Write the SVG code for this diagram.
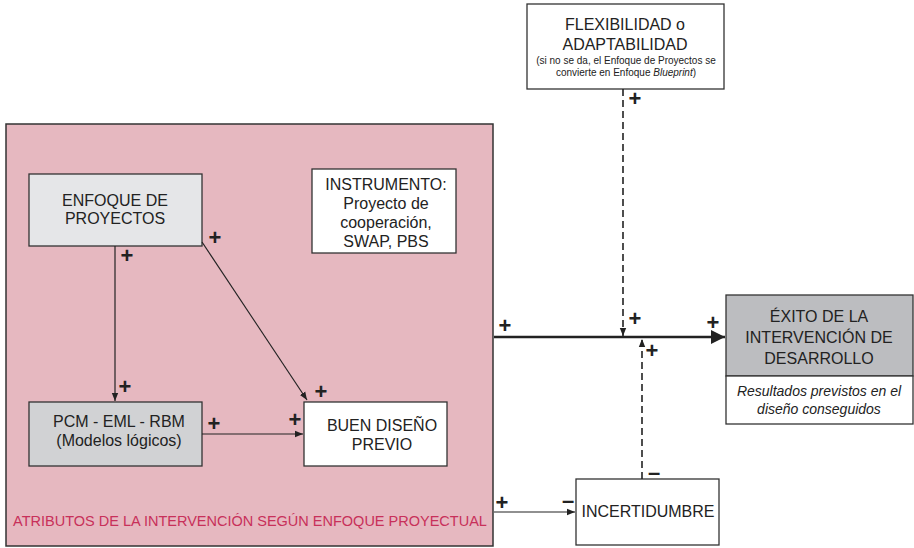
<svg xmlns="http://www.w3.org/2000/svg" width="914" height="548" viewBox="0 0 914 548">
  <style>
    .box { stroke: #333; stroke-width: 1.3; }
    .lbl { font-family: "Liberation Sans", Arial, sans-serif; font-size: 16px; fill: #222; text-anchor: middle; }
    .small { font-family: "Liberation Sans", Arial, sans-serif; font-size: 10px; fill: #222; text-anchor: middle; }
    .it { font-family: "Liberation Sans", Arial, sans-serif; font-size: 14px; font-style: italic; fill: #222; text-anchor: middle; }
    .sign { font-family: "Liberation Sans", Arial, sans-serif; font-size: 22px; font-weight: bold; fill: #222; text-anchor: middle; }
    .minus { font-family: "Liberation Sans", Arial, sans-serif; font-size: 22px; font-weight: bold; fill: #222; text-anchor: middle; }
    .thin { stroke: #222; stroke-width: 1.2; fill: none; }
    .dash { stroke: #222; stroke-width: 1.6; fill: none; stroke-dasharray: 7 4; }
  </style>
  <defs>
    <marker id="arr" viewBox="0 0 10 10" refX="10" refY="5" markerWidth="8" markerHeight="8" markerUnits="userSpaceOnUse" orient="auto">
      <path d="M0,1 L10,5 L0,9 Z" fill="#222"/>
    </marker>
    <marker id="arrBig" viewBox="0 0 10 10" refX="10" refY="5" markerWidth="16" markerHeight="14" markerUnits="userSpaceOnUse" orient="auto">
      <path d="M0,0 L10,5 L0,10 Z" fill="#222"/>
    </marker>
  </defs>

  <!-- project attributes area -->
  <g id="atributos">
    <rect x="6" y="124" width="487" height="422" fill="#e6b8c0" stroke="#333" stroke-width="1.5"/>
    <text x="250" y="526" font-family="Liberation Sans, Arial, sans-serif" font-size="14.5" fill="#c8305a" text-anchor="middle">ATRIBUTOS DE LA INTERVENCIÓN SEGÚN ENFOQUE PROYECTUAL</text>
  </g>

  <g id="enfoque">
    <rect class="box" x="29" y="174" width="173" height="72" fill="#e5e6e8"/>
    <text class="lbl" x="115" y="206">ENFOQUE DE</text>
    <text class="lbl" x="115" y="224">PROYECTOS</text>
  </g>

  <g id="instrumento">
    <rect class="box" x="312" y="169" width="144" height="84" fill="#ffffff"/>
    <text class="lbl" x="386" y="190">INSTRUMENTO:</text>
    <text class="lbl" x="386" y="209">Proyecto de</text>
    <text class="lbl" x="386" y="228">cooperación,</text>
    <text class="lbl" x="386" y="247">SWAP, PBS</text>
  </g>

  <g id="pcm">
    <rect class="box" x="29" y="402" width="173" height="64" fill="#d1d2d4"/>
    <text class="lbl" x="119" y="427">PCM - EML - RBM</text>
    <text class="lbl" x="119" y="446">(Modelos lógicos)</text>
  </g>

  <g id="diseno">
    <rect class="box" x="304" y="402" width="143" height="64" fill="#ffffff"/>
    <text class="lbl" x="382" y="431">BUEN DISEÑO</text>
    <text class="lbl" x="382" y="450">PREVIO</text>
  </g>

  <g id="flexibilidad">
    <rect class="box" x="527" y="4" width="197" height="85" fill="#ffffff"/>
    <text class="lbl" x="625" y="30" font-size="15">FLEXIBILIDAD o</text>
    <text class="lbl" x="625" y="50" font-size="15">ADAPTABILIDAD</text>
    <text class="small" x="626" y="64">(si no se da, el Enfoque de Proyectos se</text>
    <text class="small" x="626" y="76">convierte en Enfoque <tspan font-style="italic">Blueprint</tspan>)</text>
  </g>

  <g id="exito">
    <rect class="box" x="726" y="295" width="187" height="81" fill="#bcbdc0"/>
    <rect class="box" x="726" y="376" width="187" height="48" fill="#ffffff"/>
    <text class="lbl" x="819" y="322" font-size="17">ÉXITO DE LA</text>
    <text class="lbl" x="819" y="343" font-size="17">INTERVENCIÓN DE</text>
    <text class="lbl" x="819" y="364" font-size="17">DESARROLLO</text>
    <text class="it" x="819" y="396">Resultados previstos en el</text>
    <text class="it" x="819" y="414">diseño conseguidos</text>
  </g>

  <g id="incertidumbre">
    <rect class="box" x="576" y="479" width="143" height="66" fill="#ffffff"/>
    <text class="lbl" x="648" y="517" font-size="14">INCERTIDUMBRE</text>
  </g>

  <!-- connectors -->
  <g id="connectors">
    <line class="thin" x1="115" y1="246" x2="115" y2="401" marker-end="url(#arr)"/>
    <line class="thin" x1="202" y1="242" x2="307" y2="400" marker-end="url(#arr)"/>
    <line class="thin" x1="202" y1="434" x2="303" y2="434" marker-end="url(#arr)"/>
    <line x1="494" y1="337" x2="725" y2="337" stroke="#222" stroke-width="2.6" marker-end="url(#arrBig)"/>
    <line class="dash" x1="623" y1="89" x2="623" y2="336" marker-end="url(#arr)"/>
    <line class="dash" x1="642" y1="479" x2="642" y2="339" marker-end="url(#arr)"/>
    <line class="thin" x1="494" y1="512" x2="575" y2="512" marker-end="url(#arr)"/>
  </g>

  <!-- polarity signs -->
  <g id="signs">
    <text class="sign" x="127" y="263">+</text>
    <text class="sign" x="215" y="245">+</text>
    <text class="sign" x="125" y="394">+</text>
    <text class="sign" x="321" y="399">+</text>
    <text class="sign" x="214" y="431">+</text>
    <text class="sign" x="295" y="427">+</text>
    <text class="sign" x="505" y="333">+</text>
    <text class="sign" x="713" y="330">+</text>
    <text class="sign" x="635" y="106">+</text>
    <text class="sign" x="635" y="326">+</text>
    <text class="sign" x="652" y="358">+</text>
    <text class="sign" x="502" y="510">+</text>
    <text class="minus" x="568" y="508">–</text>
    <text class="minus" x="654" y="480">–</text>
  </g>
</svg>
